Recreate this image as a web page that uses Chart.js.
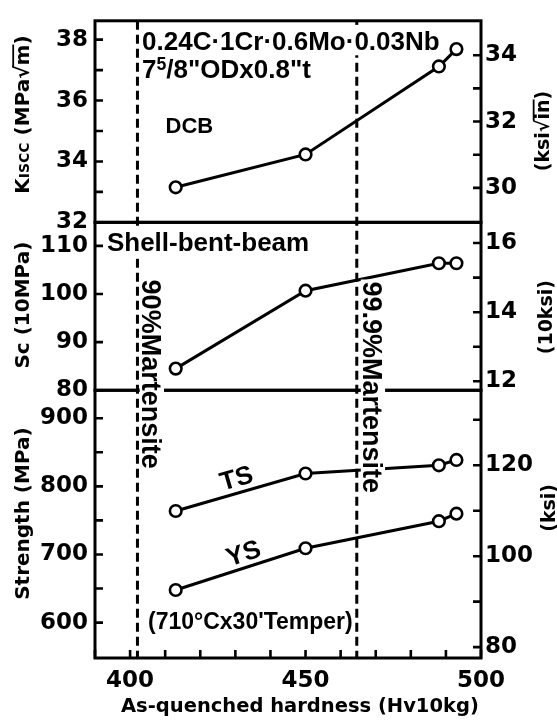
<!DOCTYPE html>
<html lang="en">
<head>
  <meta charset="UTF-8">
  <title>As-quenched hardness vs KISCC, Sc and strength</title>
  <script src="https://cdn.jsdelivr.net/npm/chart.js"></script>
  <style>
    body { margin: 0; background: #fff; }
  </style>
</head>
<body>
  <canvas id="hvChart" width="557" height="722"></canvas>
  <script>
    // As-quenched hardness of the four heats (Hv10kg)
    const hardness = [413, 450, 488, 493];

    // DCB KISCC (MPa√m)
    const kiscc = [33.15, 34.23, 37.12, 37.69];
    // Shell-bent-beam Sc (10MPa)
    const sc = [84.5, 100.7, 106.4, 106.4];
    // tensile / yield strength (MPa)
    const tensile = [763.8, 818.8, 830.9, 838.7];
    const yieldStr = [647.8, 709.1, 748.8, 759.9];

    // hardness at 90% and 99.9% martensite
    const martensite = [402.1, 464.6];

    // tick positions, and the ones that get a label
    const xTicks = [390, 400, 410, 420, 430, 440, 450, 460, 470, 480, 490, 500];
    const xLabels = [400, 450, 500];
    const kTicks = [32, 33, 34, 35, 36, 37, 38];
    const kLabels = [32, 34, 36, 38];
    const kKsiTicks = [30, 31, 32, 33, 34];
    const kKsiLabels = [30, 32, 34];
    const scTicks = [80, 90, 100, 110];
    const scLabels = [80, 90, 100, 110];
    const scKsiTicks = [12, 13, 14, 15, 16];
    const scKsiLabels = [12, 14, 16];
    const sTicks = [600, 650, 700, 750, 800, 850, 900];
    const sLabels = [600, 700, 800, 900];
    const sKsiTicks = [80, 90, 100, 110, 120, 130];
    const sKsiLabels = [80, 100, 120];

    const SANS = 'DejaVu Sans';
    const LIB = 'Liberation Sans';
    const tickFont = { family: SANS, size: 23, weight: 'bold' };

    Chart.defaults.color = '#000';

    function yAxis(pos, stackWeight, weight, min, max, ticks, labels) {
      return {
        type: 'linear', position: pos, stack: 'panels', stackWeight, weight, min, max,
        grid: { display: false, drawTicks: false },
        border: { display: false },
        afterBuildTicks: s => { s.ticks = ticks.map(v => ({ value: v })); },
        afterFit: s => { s.width = pos === 'left' ? 95 : 76; },
        ticks: {
          autoSkip: false, padding: pos === 'left' ? 7 : 4, font: tickFont,
          callback: v => labels.includes(v) ? String(v) : ''
        }
      };
    }

    function series(values, yAxisID) {
      return {
        data: hardness.map((h, i) => ({ x: h, y: values[i] })),
        yAxisID,
        borderColor: '#000',
        borderWidth: 3,
        pointRadius: 5.8,
        pointBorderWidth: 2.6,
        pointBackgroundColor: '#fff',
        pointBorderColor: '#000',
        tension: 0
      };
    }

    // draw a row of text pieces; (x, y) = start or centre, at cap middle
    function note(ctx, parts, x, y, o) {
      const size = o.size;
      ctx.save();
      ctx.translate(x, y);
      ctx.rotate(o.rot || 0);
      ctx.textAlign = 'left';
      ctx.textBaseline = 'alphabetic';
      let w = 0;
      parts.forEach(p => {
        ctx.font = `bold ${size * (p.k || 1)}px "${o.family}"`;
        p.w = ctx.measureText(p.t).width;
        w += p.w;
      });
      let cx = o.align === 'left' ? 0 : -w / 2;
      const base = size * 0.36;
      if (o.bg) {
        const [pt, pr, pb, pl] = o.bg;
        ctx.fillStyle = '#fff';
        ctx.fillRect(cx - pl, -size * 0.45 - pt, w + pl + pr, size * 0.9 + pt + pb);
      }
      ctx.fillStyle = '#000';
      ctx.strokeStyle = '#000';
      parts.forEach(p => {
        ctx.font = `bold ${size * (p.k || 1)}px "${o.family}"`;
        ctx.fillText(p.t, cx, base - (p.up || 0));
        if (p.over) {
          ctx.lineWidth = 1.8;
          ctx.beginPath();
          ctx.moveTo(cx - 1, base - size * 0.8);
          ctx.lineTo(cx + p.w, base - size * 0.8);
          ctx.stroke();
        }
        cx += p.w;
      });
      ctx.restore();
    }

    const decor = {
      id: 'decor',
      beforeDatasetsDraw(chart) {
        const { ctx, chartArea: a, scales } = chart;
        ctx.save();
        ctx.strokeStyle = '#000';
        ctx.lineWidth = 3;
        ctx.setLineDash([9, 5]);
        martensite.forEach(v => {
          const x = scales.x.getPixelForValue(v);
          ctx.beginPath();
          ctx.moveTo(x, a.top);
          ctx.lineTo(x, a.bottom);
          ctx.stroke();
        });
        ctx.restore();
      },
      afterDatasetsDraw(chart) {
        const { ctx, chartArea: a, scales } = chart;
        const X = v => scales.x.getPixelForValue(v);
        ctx.save();
        ctx.strokeStyle = '#000';

        // panel frames
        ctx.lineWidth = 3;
        ['yK', 'ySc', 'yS'].forEach(id => {
          const s = scales[id];
          ctx.strokeRect(a.left, s.top, a.right - a.left, s.bottom - s.top);
        });

        // ticks pointing into the panels
        ctx.lineWidth = 2.6;
        const tl = 8;
        ctx.beginPath();
        ['yK', 'ySc', 'yS'].forEach(id => scales[id].ticks.forEach(t => {
          const y = scales[id].getPixelForValue(t.value);
          ctx.moveTo(a.left, y); ctx.lineTo(a.left + tl, y);
        }));
        ['yKk', 'yScK', 'ySK'].forEach(id => scales[id].ticks.forEach(t => {
          const y = scales[id].getPixelForValue(t.value);
          ctx.moveTo(a.right, y); ctx.lineTo(a.right - tl, y);
        }));
        scales.x.ticks.forEach(t => {
          const x = X(t.value);
          ctx.moveTo(x, a.bottom); ctx.lineTo(x, a.bottom - tl);
        });
        ctx.stroke();
        ctx.restore();

        const yK = v => scales.yK.getPixelForValue(v);
        const ySc = v => scales.ySc.getPixelForValue(v);
        const yS = v => scales.yS.getPixelForValue(v);

        note(ctx, [{ t: '0.24C·1Cr·0.6Mo·0.03Nb' }], X(403.4), yK(37.97),
          { size: 26, family: LIB, align: 'left', bg: [4, 2, 3, 1] });
        note(ctx, [{ t: '7' }, { t: '5', k: 0.68, up: 8 }, { t: '/8"ODx0.8"t' }], X(403.4), yK(37.05),
          { size: 26, family: LIB, align: 'left' });
        note(ctx, [{ t: 'DCB' }], X(416.9), yK(35.18), { size: 22, family: LIB });
        note(ctx, [{ t: 'Shell-bent-beam' }], X(393.4), ySc(110.9),
          { size: 26, family: LIB, align: 'left', bg: [3, 2, 5, 2] });
        note(ctx, [{ t: '90%Martensite' }], X(406.2), ySc(103.0),
          { size: 27, family: LIB, align: 'left', rot: Math.PI / 2, bg: [0, 2, 0, 2] });
        note(ctx, [{ t: '99.9%Martensite' }], X(469.2), ySc(102.6),
          { size: 27, family: LIB, align: 'left', rot: Math.PI / 2, bg: [0, 2, 0, 2] });
        note(ctx, [{ t: 'TS' }], X(430.2), yS(813.4),
          { size: 26, family: LIB, rot: -16 * Math.PI / 180 });
        note(ctx, [{ t: 'YS' }], X(432.2), yS(703.2),
          { size: 26, family: LIB, rot: -18 * Math.PI / 180 });
        note(ctx, [{ t: "(710°Cx30'Temper)" }], X(405.1), yS(602.4),
          { size: 23, family: LIB, align: 'left' });
      },
      afterDraw(chart) {
        const { ctx, chartArea: a, scales } = chart;
        const up = -Math.PI / 2;
        const lx = a.left - 73;
        note(ctx, [{ t: 'K' }, { t: 'ISCC', k: 0.7 }, { t: ' (MPa√' }, { t: 'm', over: true }, { t: ')' }],
          lx, scales.yK.getPixelForValue(35.54), { size: 20, family: SANS, rot: up });
        note(ctx, [{ t: 'Sc (10MPa)' }], lx, scales.ySc.getPixelForValue(97.7), { size: 20, family: SANS, rot: up });
        note(ctx, [{ t: 'Strength (MPa)' }], lx, scales.yS.getPixelForValue(760), { size: 20, family: SANS, rot: up });

        note(ctx, [{ t: '(ksi√' }, { t: 'in', over: true }, { t: ')' }],
          a.right + 61, scales.yK.getPixelForValue(35.0), { size: 19, family: SANS, rot: up });
        note(ctx, [{ t: '(10ksi)' }], a.right + 64, scales.ySc.getPixelForValue(95.2), { size: 19, family: SANS, rot: up });
        note(ctx, [{ t: '(ksi)' }], a.right + 67, scales.yS.getPixelForValue(768.4), { size: 19, family: SANS, rot: up });

        note(ctx, [{ t: 'As-quenched hardness (Hv10kg)' }], scales.x.getPixelForValue(448.4), a.bottom + 47,
          { size: 19.5, family: SANS });
      }
    };

    const ctx = document.getElementById('hvChart').getContext('2d');
    new Chart(ctx, {
      type: 'line',
      data: {
        datasets: [
          series(kiscc, 'yK'),
          series(sc, 'ySc'),
          series(tensile, 'yS'),
          series(yieldStr, 'yS')
        ]
      },
      options: {
        responsive: false,
        animation: false,
        layout: { padding: { top: 13, left: 0, right: 0, bottom: 0 } },
        plugins: { legend: { display: false }, tooltip: { enabled: false } },
        scales: {
          x: {
            type: 'linear', position: 'bottom', min: 390, max: 500,
            grid: { display: false, drawTicks: false },
            border: { display: false },
            afterBuildTicks: s => { s.ticks = xTicks.map(v => ({ value: v })); },
            afterFit: s => { s.height = 64; },
            ticks: {
              autoSkip: false, maxRotation: 0, padding: 9, font: tickFont,
              callback: v => xLabels.includes(v) ? String(v) : ''
            }
          },
          // left axes: higher weight is placed on top of the stack
          yK: yAxis('left', 204, 3, 32, 38.62, kTicks, kLabels),
          ySc: yAxis('left', 170, 2, 80, 114.9, scTicks, scLabels),
          yS: yAxis('left', 271, 1, 548, 941, sTicks, sLabels),
          // right axes: lower weight is placed on top
          yKk: yAxis('right', 204, 1, 28.96, 35.04, kKsiTicks, kKsiLabels),
          yScK: yAxis('right', 170, 2, 11.74, 16.6, scKsiTicks, scKsiLabels),
          ySK: yAxis('right', 271, 3, 77.6, 136.5, sKsiTicks, sKsiLabels)
        }
      },
      plugins: [decor]
    });
  </script>
</body>
</html>
